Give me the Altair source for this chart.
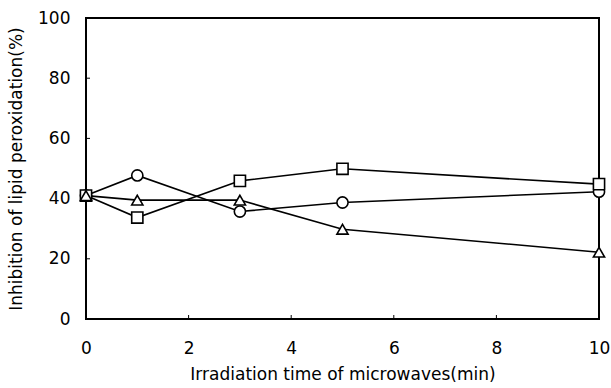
import altair as alt
import pandas as pd

times = [0, 1, 3, 5, 10]
circle_vals = [41.0, 47.7, 35.7, 38.7, 42.3]
square_vals = [41.0, 33.7, 45.9, 49.9, 44.8]
triangle_vals = [41.0, 39.5, 39.5, 29.8, 22.2]
series_names = ["circle", "square", "triangle"]
x_ticks = [2, 4, 6, 8]
y_ticks = [20, 40, 60, 80]
x_labels = [0, 2, 4, 6, 8, 10]
y_labels = [0, 20, 40, 60, 80, 100]

rows = []
for name, vals in zip(series_names, [circle_vals, square_vals, triangle_vals]):
    for t, v in zip(times, vals):
        rows.append({"time": t, "value": v, "series": name})
df = pd.DataFrame(rows)

W, H = 513, 301
FONT = "DejaVu Sans"

xscale = alt.Scale(domain=[0, 10], nice=False, zero=False)
yscale = alt.Scale(domain=[0, 100], nice=False)

x_enc = alt.X("time:Q", scale=xscale,
              axis=alt.Axis(values=x_labels, title="Irradiation time of microwaves(min)",
                            domain=False, ticks=False, grid=False, labelPadding=21,
                            titlePadding=10, labelFlush=False))
y_enc = alt.Y("value:Q", scale=yscale,
              axis=alt.Axis(values=y_labels, title="Inhibition of lipid peroxidation(%)",
                            domain=False, ticks=False, grid=False, labelPadding=16,
                            titlePadding=12, labelFlush=False))

base = alt.Chart(df)

lines = base.mark_line(color="black", strokeWidth=1.6, clip=False).encode(
    x=x_enc, y=y_enc, detail="series:N"
)

points = base.mark_point(filled=False, fill="white", fillOpacity=1, stroke="black",
                         strokeWidth=1.6, size=125, opacity=1, clip=False).encode(
    x=alt.X("time:Q", scale=xscale),
    y=alt.Y("value:Q", scale=yscale),
    shape=alt.Shape("series:N",
                    scale=alt.Scale(domain=series_names,
                                    range=["circle", "square", "triangle-up"]),
                    legend=None),
)

xt = alt.Chart(pd.DataFrame({"t": x_ticks})).mark_rule(color="black", strokeWidth=1).encode(
    x=alt.X("t:Q", scale=xscale),
    y=alt.value(H), y2=alt.value(H - 4),
)
yt = alt.Chart(pd.DataFrame({"t": y_ticks})).mark_rule(color="black", strokeWidth=1).encode(
    y=alt.Y("t:Q", scale=yscale),
    x=alt.value(0), x2=alt.value(4),
)

chart = alt.layer(xt, yt, lines, points).properties(
    width=W, height=H,
    autosize=alt.AutoSizeParams(type="none"),
    padding={"left": 86, "top": 18, "right": 12, "bottom": 69},
    background="white",
).configure_view(
    stroke="black", strokeWidth=2
).configure_axis(
    labelFont=FONT, titleFont=FONT, labelFontSize=17, titleFontSize=17,
    labelColor="black", titleColor="black", titleFontWeight="normal",
    labelFontWeight="normal",
)

chart.save("out.html", embed_options={"renderer": "svg", "actions": False})
